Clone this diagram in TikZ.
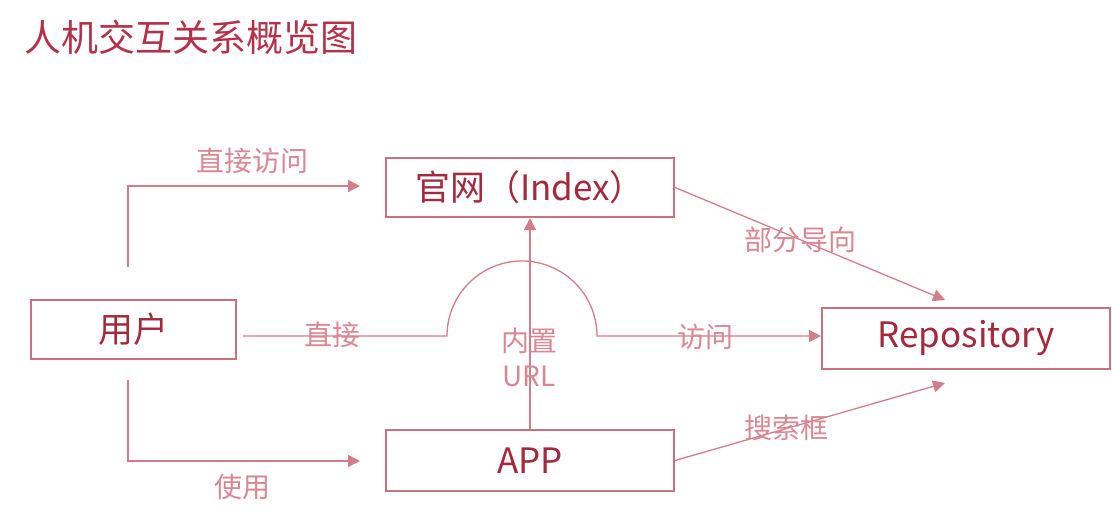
\documentclass[tikz,border=0pt]{standalone}
\usepackage{xcolor}
\usepackage{fontspec}
\setmainfont{Noto Sans CJK SC}
\usetikzlibrary{arrows.meta}
\definecolor{titlered}{HTML}{B3324A}
\definecolor{boxtext}{HTML}{A3293C}
\definecolor{boxline}{HTML}{C9717E}
\definecolor{linkline}{HTML}{D47D8A}
\definecolor{linktext}{HTML}{DA8794}

\begin{document}
\begin{tikzpicture}[x=1pt,y=1pt,
    box/.style={draw=boxline,line width=2pt,text=boxtext,inner sep=0pt,font=\fontsize{35}{38}\selectfont},
    link/.style={draw=linkline,line width=1.3pt,-{Triangle[length=12pt,width=12pt]}},
    lbl/.style={text=linktext,inner sep=0pt,align=center,font=\fontsize{28}{35}\selectfont}]
      \useasboundingbox (0,0) rectangle (1112,-522);
      \node[text=titlered,inner sep=0pt,font=\fontsize{37}{40}\selectfont] (title) at (191,-37) {人机交互关系概览图};
      \node[box,minimum width=205pt,minimum height=59pt] (user) at (133.5,-329.5) {用户};
      \node[box,minimum width=288pt,minimum height=59pt] (index) at (530,-187.5) {官网（Index）};
      \node[box,minimum width=288pt,minimum height=61pt] (app) at (530,-460.5) {APP};
      \node[box,minimum width=288pt,minimum height=61pt] (repo) at (966,-338.5) {Repository};
      \coordinate (up) at (128,-267);
      \coordinate (toindex) at (360,-186);
      \coordinate (down) at (128,-380);
      \coordinate (toapp) at (360,-461);
      \coordinate (direct) at (243,-336);
      \coordinate (hop) at (447,-336);
      \coordinate (reptop) at (945,-300);
      \coordinate (repbot) at (945,-383);
      \draw[link] (up) |- (toindex);
      \draw[link] (down) |- (toapp);
      \draw[link] (direct) -- (hop) arc[start angle=180,end angle=0,radius=75pt] -- (repo.west |- hop);
      \draw[link] (app.north) -- (index.south);
      \draw[link] (index.east) -- (reptop);
      \draw[link] (app.east) -- (repbot);
      \node[lbl] (visit) at (252,-161) {直接访问};
      \node[lbl] (use) at (242,-487) {使用};
      \node[lbl] (straight) at (332,-335) {直接};
      \node[lbl] (access) at (705,-337) {访问};
      \node[lbl] (builtin) at (529,-357) {内置\\URL};
      \node[lbl] (partial) at (800,-240) {部分导向};
      \node[lbl] (search) at (786,-428) {搜索框};
\end{tikzpicture}
\end{document}
